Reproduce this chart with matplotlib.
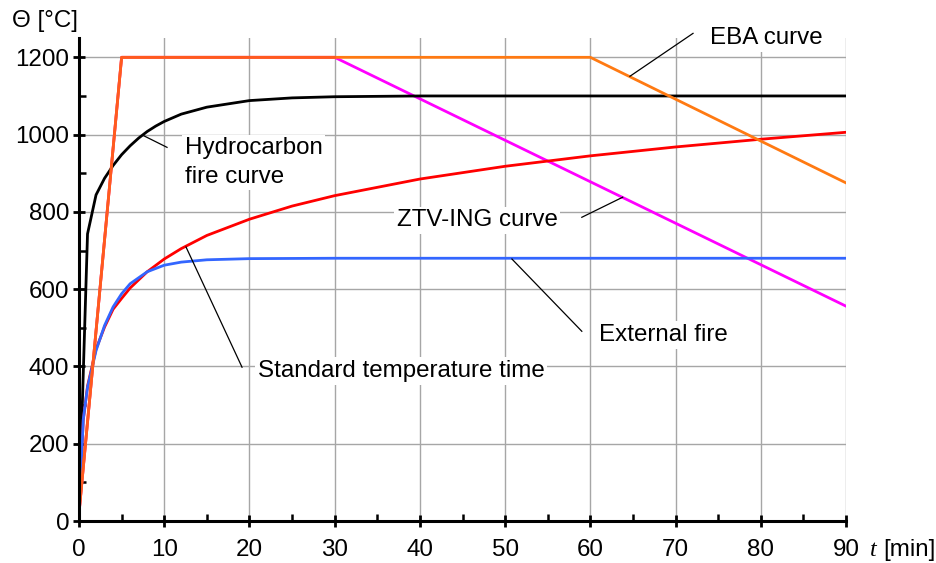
import matplotlib.pyplot as plt
from matplotlib.ticker import MultipleLocator

plt.rcParams['font.family'] = ['Liberation Sans', 'DejaVu Sans']

# Temperature-time curves for tunnel fire design (t in min, temperature in °C)
t_iso = [0, 0.5, 1, 2, 3, 4, 5, 6, 8, 10, 12, 15, 20, 25, 30, 40, 50, 60, 70, 80, 90]
temp_iso = [20, 261, 349, 445, 502, 548, 576, 603, 645, 678, 705, 739, 781, 815, 842,
            885, 918, 945, 968, 988, 1006]

t_hc = [0, 1, 2, 3, 4, 5, 6, 7, 8, 9, 10, 12, 15, 20, 25, 30, 40, 60, 90]
temp_hc = [20, 743, 844, 887, 920, 948, 971, 991, 1008, 1022, 1034, 1053, 1071, 1088,
           1095, 1098, 1100, 1100, 1100]

t_ext = [0, 0.5, 1, 2, 3, 4, 5, 6, 8, 10, 12, 15, 20, 30, 60, 90]
temp_ext = [20, 263, 346, 441, 506, 554, 588, 614, 645, 662, 670, 676, 679, 680, 680, 680]

t_ztv = [0, 5, 30, 90]
temp_ztv = [20, 1200, 1200, 556]

t_eba = [0, 5, 60, 90]
temp_eba = [20, 1200, 1200, 875]

fig = plt.figure(figsize=(9.36, 5.63), dpi=100)
ax = fig.add_axes([79 / 936, 42 / 563, 767 / 936, 483 / 563])

lw = 2.0
ax.plot(t_ztv, temp_ztv, color='#FF00FF', lw=lw, zorder=3)
ax.plot(t_eba, temp_eba, color='#FF7A12', lw=lw, zorder=4)
# shared rise and plateau of the EBA and ZTV-ING curves
ax.plot(t_ztv[:3], temp_ztv[:3], color='#FF5A1F', lw=lw, zorder=4)
ax.plot(t_hc, temp_hc, color='black', lw=lw, zorder=3)
ax.plot(t_iso, temp_iso, color='#FF0000', lw=lw, zorder=3)
ax.plot(t_ext, temp_ext, color='#3366FF', lw=lw, zorder=3)

ax.set_xlim(0, 90)
ax.set_ylim(0, 1250)
ax.xaxis.set_major_locator(MultipleLocator(10))
ax.xaxis.set_minor_locator(MultipleLocator(5))
ax.yaxis.set_major_locator(MultipleLocator(200))
ax.yaxis.set_minor_locator(MultipleLocator(100))
ax.set_yticks(range(0, 1201, 200))

ax.grid(True, which='major', color='#A6A6A6', lw=1.0, zorder=1)
ax.set_axisbelow(True)
for s in ['top', 'right']:
    ax.spines[s].set_visible(False)
for s in ['left', 'bottom']:
    ax.spines[s].set_linewidth(2.2)
    ax.spines[s].set_zorder(5)

fs = 17.4
ax.tick_params(which='major', direction='inout', length=8, width=2, labelsize=fs, pad=3)
ax.tick_params(which='minor', direction='in', length=5, width=1.8)
ax.tick_params(axis='x', which='major', pad=9)

box = dict(facecolor='white', edgecolor='none', pad=2)

ax.text(12.4, 928, 'Hydrocarbon\nfire curve', fontsize=fs, va='center', ha='left',
        linespacing=1.38, bbox=box, zorder=6)
ax.plot([7.51, 10.33], [998, 967], color='black', lw=0.9, zorder=6)

ax.text(21.0, 388, 'Standard temperature time', fontsize=fs, va='center', ha='left',
        bbox=box, zorder=6)
ax.plot([12.56, 19.13], [709, 398], color='black', lw=0.9, zorder=6)

ax.text(37.3, 778, 'ZTV-ING curve', fontsize=fs, va='center', ha='left', bbox=box, zorder=6)
ax.plot([59.0, 63.8], [786, 838], color='black', lw=0.9, zorder=6)

ax.text(61.0, 481, 'External fire', fontsize=fs, va='center', ha='left', bbox=box, zorder=6)
ax.plot([50.8, 59.0], [678, 491], color='black', lw=0.9, zorder=6)

ax.text(74.0, 1250, 'EBA curve', fontsize=fs, va='center', ha='left', bbox=box,
        zorder=6, clip_on=False)
ax.plot([72.05, 64.65], [1262, 1151], color='black', lw=0.9, zorder=6, clip_on=False)

# axis titles
ax.text(-7.9, 1295, 'Θ [°C]', fontsize=fs, va='center', ha='left', clip_on=False)
ax.text(92.8, -76, 't', fontsize=fs, va='center', ha='left', style='italic',
        family='Liberation Serif', clip_on=False)
ax.text(94.4, -76, '[min]', fontsize=fs, va='center', ha='left', clip_on=False)

fig.savefig('out.png', dpi=100)
